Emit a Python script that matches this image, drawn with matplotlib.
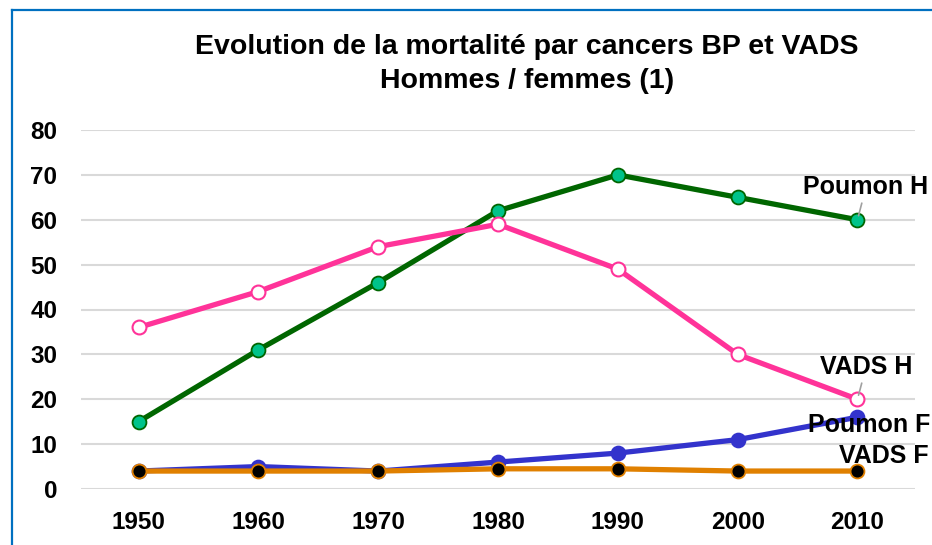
import matplotlib
matplotlib.use("Agg")
import matplotlib.pyplot as plt
from matplotlib.lines import Line2D

plt.rcParams['font.family'] = ['Liberation Sans', 'DejaVu Sans']

years = [1950, 1960, 1970, 1980, 1990, 2000, 2010]
poumon_h = [15, 31, 46, 62, 70, 65, 60]
vads_h = [36, 44, 54, 59, 49, 30, 20]
poumon_f = [4, 5, 4, 6, 8, 11, 16]
vads_f = [4, 4, 4, 4.5, 4.5, 4, 4]
yticks = [0, 10, 20, 30, 40, 50, 60, 70, 80]
title = "Evolution de la mortalité par cancers BP et VADS\nHommes / femmes (1)"

W, H = 932, 545
fig = plt.figure(figsize=(W / 100, H / 100), dpi=100)
ax = fig.add_axes([81 / W, (H - 489) / H, (915 - 81) / W, (489 - 130) / H])

# blue frame
fig.add_artist(Line2D([11.5 / W, 11.5 / W], [0, (H - 10) / H], color='#0070c0', lw=1.6,
                      transform=fig.transFigure))
fig.add_artist(Line2D([11.5 / W, 1], [(H - 10) / H, (H - 10) / H], color='#0070c0', lw=1.6,
                      transform=fig.transFigure))

lw = 3.8
ms = 10
ax.plot(years, poumon_h, color='#006600', lw=lw, marker='o', ms=ms,
        mfc='#00c38a', mec='#006600', mew=1.3, zorder=4, clip_on=False)
ax.plot(years, vads_h, color='#ff3399', lw=lw, marker='o', ms=ms,
        mfc='white', mec='#ff3399', mew=1.5, zorder=4, clip_on=False)
ax.plot(years, poumon_f, color='#3333cc', lw=lw, marker='o', ms=ms,
        mfc='#3333cc', mec='#3333cc', mew=1.3, zorder=3, clip_on=False)
ax.plot(years, vads_f, color='#e08000', lw=lw, marker='o', ms=ms,
        mfc='black', mec='#e08000', mew=1.3, zorder=5, clip_on=False)

ax.set_xlim(1945.2, 2014.8)
ax.set_ylim(0, 80)
ax.set_yticks(yticks)
ax.set_xticks(years)
ax.yaxis.grid(True, color='#d9d9d9', lw=1.5)
ax.set_axisbelow(True)
for s in ax.spines.values():
    s.set_visible(False)
ax.tick_params(length=0, labelsize=17.5)
ax.tick_params(axis='y', pad=17)
ax.tick_params(axis='x', pad=15.5)
for lab in ax.get_xticklabels() + ax.get_yticklabels():
    lab.set_fontweight('bold')

fig.text(527 / W, (H - 64) / H, title, ha='center', va='center', fontsize=20.5,
         fontweight='bold', linespacing=1.4)

# data labels
def lab(text, x, y, tx, ty, leader=True):
    ax.annotate(text, xy=(x, y), xycoords='data', xytext=(tx / W, (H - ty) / H),
                textcoords='figure fraction', ha='center', va='center',
                fontsize=18, fontweight='bold', annotation_clip=False, zorder=6,
                arrowprops=dict(arrowstyle='-', color='#a0a0a0', lw=1.2,
                                shrinkA=1, shrinkB=3) if leader else None)

lab("Poumon H", years[-1], poumon_h[-1], 866, 187)
lab("VADS H", years[-1], vads_h[-1], 866, 367)
lab("Poumon F", years[-1], poumon_f[-1], 869, 425, leader=False)
lab("VADS F", years[-1], vads_f[-1], 884, 456, leader=False)

fig.savefig("out.png", dpi=100)
